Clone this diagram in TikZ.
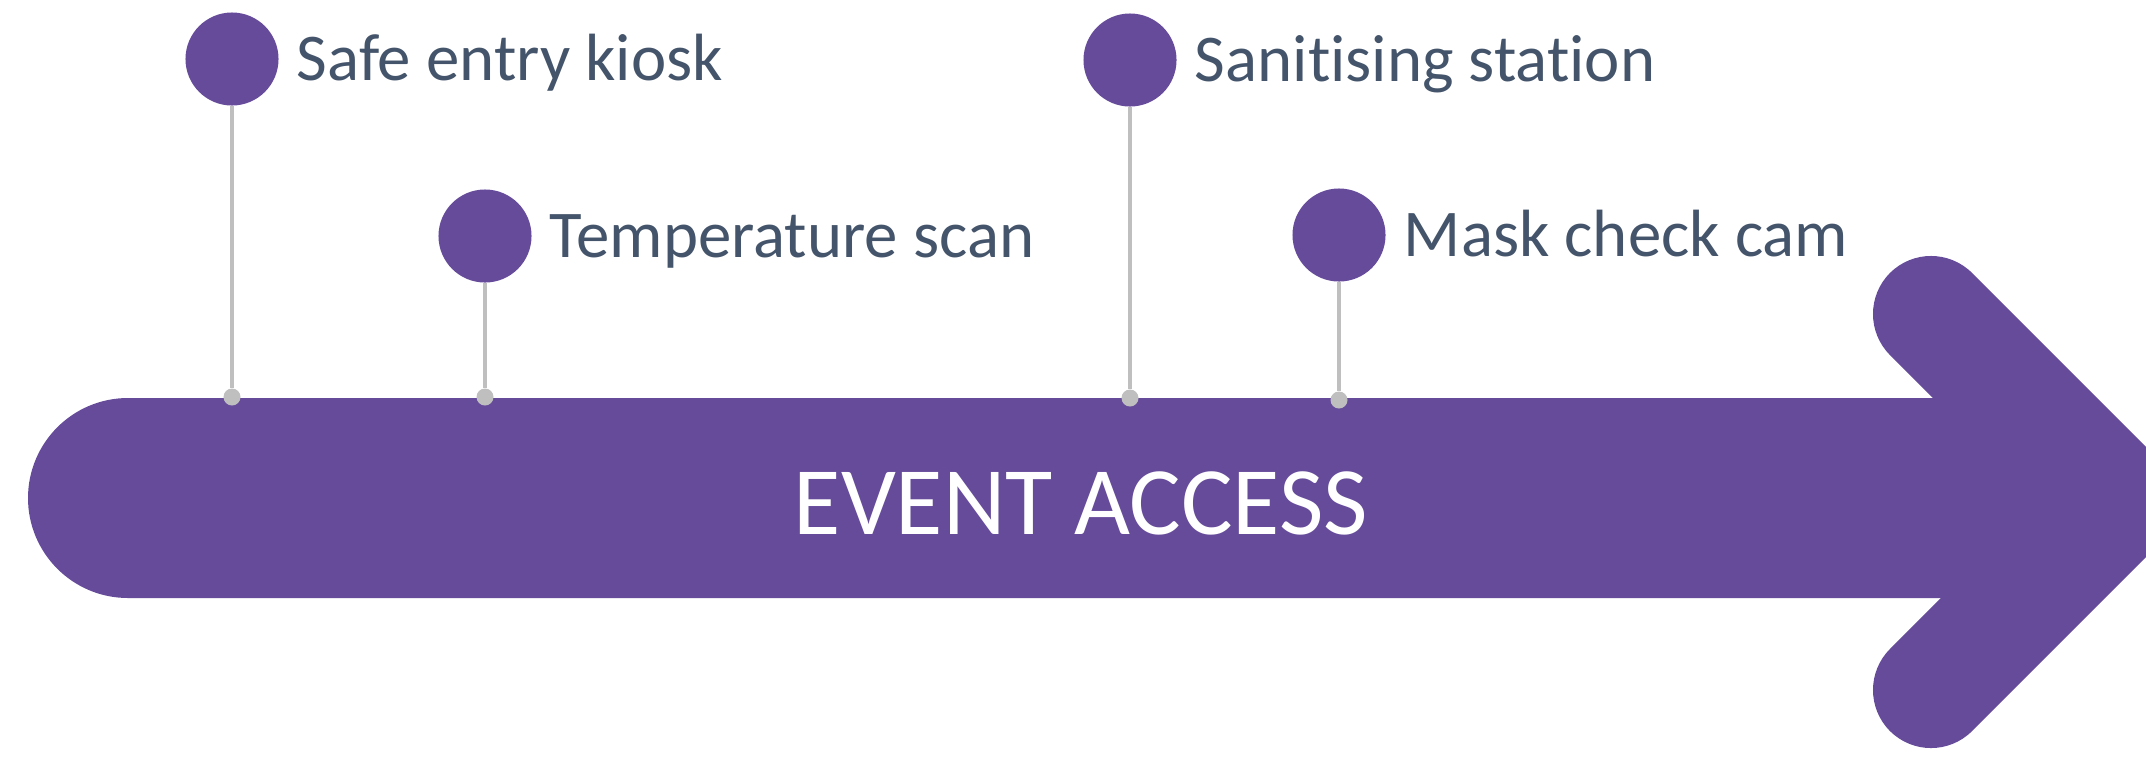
\documentclass[tikz,border=0pt]{standalone}
\usepackage{fontspec}
\setmainfont{Carlito}[Ligatures={NoCommon}]
\usetikzlibrary{positioning}
\definecolor{accesspurple}{RGB}{102,75,155}
\definecolor{stemgray}{RGB}{191,191,191}
\definecolor{labelslate}{RGB}{68,84,106}

\begin{document}
\begin{tikzpicture}[x=0.01cm, y=-0.01cm,
  pin/.style={circle, fill=accesspurple, inner sep=0pt, minimum size=0.93cm},
  foot/.style={circle, fill=stemgray, inner sep=0pt, minimum size=0.17cm},
  stem/.style={stemgray, line width=0.04cm},
  tag/.style={text=labelslate, font=\fontsize{19}{22}\selectfont, inner sep=0pt, text height=0.43cm, text depth=0pt}]
  \useasboundingbox (0,0) rectangle (2146,757);
  \clip (0,0) rectangle (2146,757);

  \fill[accesspurple] (2090,398) -- (128,398) arc[start angle=270, end angle=90, radius=100] -- (2090,598) -- cycle;
  \coordinate (headtop) at (1931,314);
  \coordinate (tip) at (2119,502);
  \coordinate (headbot) at (1931,690);
  \draw[accesspurple, line width=1.16cm, line cap=round, line join=miter] (headtop) -- (tip) -- (headbot);
  \node[text=white, font=\fontsize{27.5}{30}\selectfont] (access) at (1081,503) {EVENT ACCESS};

  \node[pin] (kiosk) at (232,59) {};
  \node[pin] (temp) at (485,236) {};
  \node[pin] (sanit) at (1130,60) {};
  \node[pin] (mask) at (1339,235) {};

  \node[foot] (kioskdot) at (232,397) {};
  \node[foot] (tempdot) at (485,397) {};
  \node[foot] (sanitdot) at (1130,398) {};
  \node[foot] (maskdot) at (1339,400) {};

  \draw[stem] (kiosk) -- (kioskdot);
  \draw[stem] (temp) -- (tempdot);
  \draw[stem] (sanit) -- (sanitdot);
  \draw[stem] (mask) -- (maskdot);

  \node[tag, right=0.17cm of kiosk] (kiosklabel) {Safe entry kiosk};
  \node[tag, right=0.17cm of temp] (templabel) {Temperature scan};
  \node[tag, right=0.17cm of sanit] (sanitlabel) {Sanitising station};
  \node[tag, right=0.17cm of mask] (masklabel) {Mask check cam};
\end{tikzpicture}
\end{document}
